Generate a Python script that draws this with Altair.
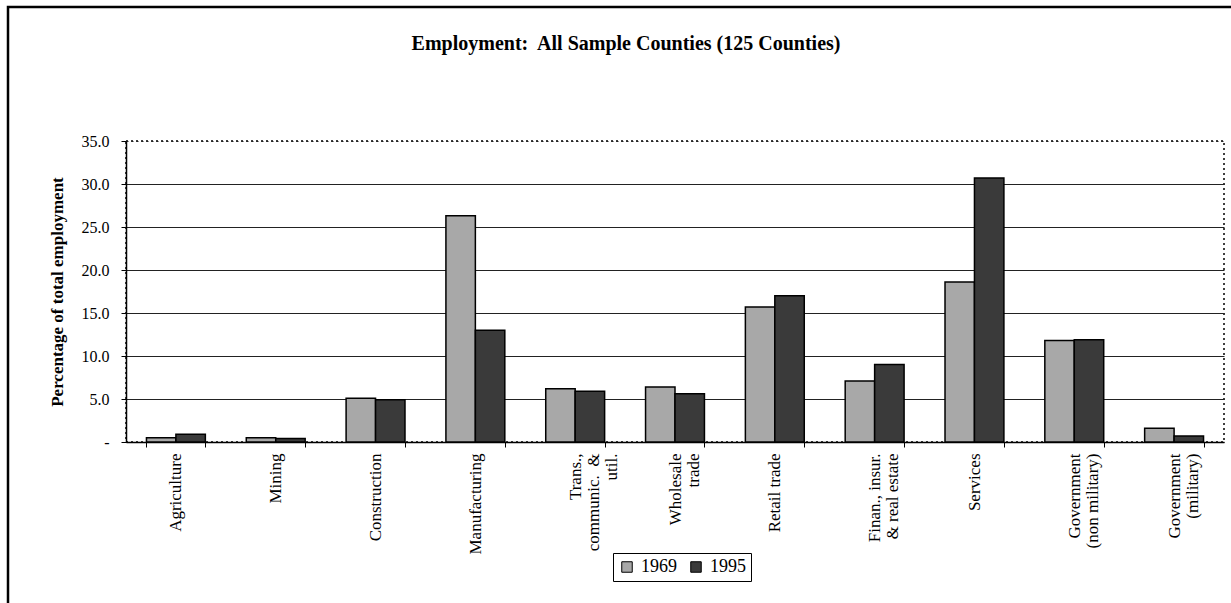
import altair as alt
import pandas as pd

categories = [
    "Agriculture",
    "Mining",
    "Construction",
    "Manufacturing",
    "Trans.,|communic.\u00a0 &|util.",
    "Wholesale|trade",
    "Retail trade",
    "Finan., insur.|& real estate",
    "Services",
    "Government|(non military)",
    "Government|(military)",
]
years = ["1969", "1995"]
values_1969 = [0.5, 0.5, 5.1, 26.3, 6.2, 6.4, 15.7, 7.1, 18.6, 11.8, 1.6]
values_1995 = [0.9, 0.4, 4.9, 13.0, 5.9, 5.6, 17.0, 9.0, 30.7, 11.9, 0.7]
y_ticks = [0, 5, 10, 15, 20, 25, 30, 35]

rows = []
for c, a, b in zip(categories, values_1969, values_1995):
    rows.append({"category": c, "year": years[0], "value": a})
    rows.append({"category": c, "year": years[1], "value": b})
df = pd.DataFrame(rows)

SERIF = "Liberation Serif"

bars = alt.Chart(df).mark_bar(stroke="black", strokeWidth=1.5).encode(
    x=alt.X(
        "category:N",
        sort=categories,
        scale=alt.Scale(paddingInner=0.41, paddingOuter=0.205),
        axis=alt.Axis(
            title=None,
            labelAngle=270,
            labelAlign="right",
            labelBaseline="middle",
            labelFont=SERIF,
            labelFontSize=17,
            labelColor="black",
            labelExpr="datum.value ? split(datum.value, '|') : ''",
            labelLineHeight=18,
            labelLimit=0,
            labelPadding=6,
            tickBand="extent",
            ticks=True,
            tickSize=5,
            tickColor="black",
            domainColor="black",
            domainWidth=1.5,
            grid=False,
        ),
    ),
    xOffset=alt.XOffset("year:N", sort=years),
    y=alt.Y(
        "value:Q",
        scale=alt.Scale(domain=[0, 35], nice=False),
        axis=alt.Axis(
            values=y_ticks,
            labelExpr="datum.value == 0 ? '-\u00a0\u00a0\u00a0\u00a0' : format(datum.value, '.1f')",
            title="Percentage of total employment",
            titleFont=SERIF,
            titleFontWeight="bold",
            titleFontSize=17,
            titleColor="black",
            titlePadding=15,
            labelFont=SERIF,
            labelFontSize=16,
            labelColor="black",
            labelPadding=12,
            tickSize=5,
            tickColor="black",
            domainColor="black",
            domainWidth=1.5,
            grid=True,
            gridColor="#222222",
            gridWidth=1,
            gridDash=alt.condition("datum.value == 35", alt.value([2, 3]), alt.value([])),
        ),
    ),
    color=alt.Color(
        "year:N",
        sort=years,
        scale=alt.Scale(domain=years, range=["#a8a8a8", "#3a3a3a"]),
        legend=alt.Legend(
            title=None,
            orient="none",
            legendX=487,
            legendY=412,
            direction="horizontal",
            strokeColor="black",
            fillColor="white",
            padding=5,
            symbolType="square",
            symbolSize=110,
            symbolStrokeColor="black",
            symbolStrokeWidth=1,
            labelFont=SERIF,
            labelFontSize=18,
            labelColor="black",
            labelOffset=5,
            columnPadding=10,
        ),
    ),
)

frame = alt.Chart(pd.DataFrame({"f": [0]})).mark_rect(
    fill="transparent", stroke="black", strokeWidth=2.5
).encode(
    x=alt.value(-118), x2=alt.value(1115), y=alt.value(-134), y2=alt.value(472)
)

chart = alt.layer(bars, frame).properties(
    width=1098,
    height=301,
    title=alt.TitleParams(
        "Employment:\u00a0 All Sample Counties (125 Counties)",
        font=SERIF,
        fontSize=20,
        fontWeight="bold",
        anchor="middle",
        frame="group",
        baseline="alphabetic",
        dx=-49,
        offset=-64,
        color="black",
    ),
    autosize=alt.AutoSizeParams(type="none"),
    padding={"left": 126, "top": 141, "right": 7, "bottom": 161},
    background="white",
).configure_view(stroke="black", strokeDash=[2, 3], strokeWidth=1.5)

chart.save("out.html", embed_options={"renderer": "svg", "actions": False})
